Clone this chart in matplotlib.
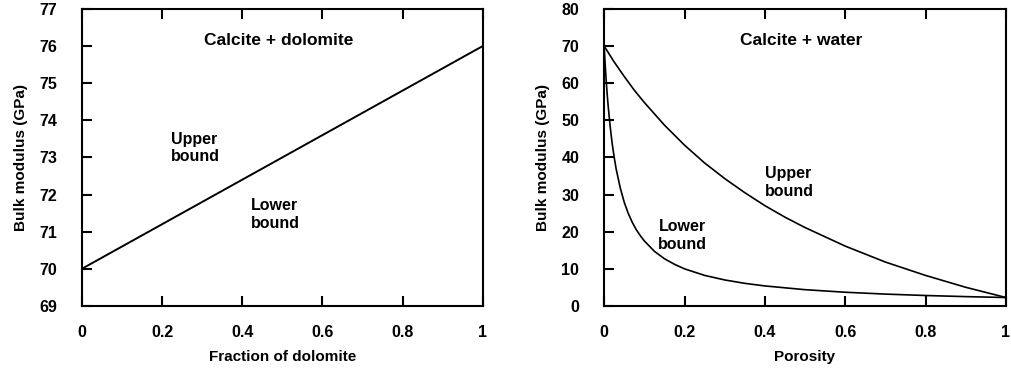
import matplotlib
matplotlib.use("Agg")
import matplotlib.pyplot as plt

# left panel: calcite + dolomite (bounds coincide)
frac_dolomite = [0.0, 0.25, 0.5, 0.75, 1.0]
k_dolomite_mix = [70.0, 71.5, 73.0, 74.5, 76.0]

# right panel: calcite + water
por_upper = [0.0, 0.025, 0.05, 0.075, 0.1, 0.15, 0.2, 0.25, 0.3, 0.35, 0.4, 0.45, 0.5,
             0.6, 0.7, 0.8, 0.9, 1.0]
k_upper = [70.0, 65.7, 61.8, 58.1, 54.8, 48.7, 43.3, 38.5, 34.3, 30.5, 27.0, 23.9, 21.1,
           16.1, 11.8, 8.2, 5.0, 2.25]

por_lower = [0.0, 0.0025, 0.005, 0.0075, 0.01, 0.015, 0.02, 0.025, 0.03, 0.04, 0.05, 0.06,
             0.07, 0.08, 0.09, 0.1, 0.125, 0.15, 0.175, 0.2, 0.25, 0.3, 0.35, 0.4, 0.5,
             0.6, 0.7, 0.8, 0.9, 1.0]
k_lower = [70.0, 65.0, 60.8, 57.0, 53.8, 48.3, 43.7, 40.0, 36.8, 31.8, 27.9, 24.9,
           22.5, 20.5, 18.9, 17.5, 14.7, 12.7, 11.2, 9.97, 8.21, 6.98, 6.07, 5.37, 4.36,
           3.67, 3.17, 2.79, 2.49, 2.25]

x_ticks = [0, 0.2, 0.4, 0.6, 0.8, 1]
x_ticklabels = ['0', '0.2', '0.4', '0.6', '0.8', '1']

plt.rcParams['font.family'] = ['Liberation Sans', 'DejaVu Sans']
plt.rcParams['font.weight'] = 'bold'


def style_axes(ax):
    for s in ax.spines.values():
        s.set_linewidth(1.5)
    ax.tick_params(direction='in', length=7, width=1.5, top=True, right=False,
                   labelsize=11.5)
    ax.tick_params(axis='y', pad=18)
    ax.tick_params(axis='x', pad=14)
    ax.set_xlim(0, 1)
    ax.set_xticks(x_ticks)
    ax.set_xticklabels(x_ticklabels)


def main():
    fig = plt.figure(figsize=(10.12, 3.73), dpi=100)
    ax1 = fig.add_axes([0.081, 0.18, 0.396, 0.796])
    ax2 = fig.add_axes([0.597, 0.18, 0.397, 0.796])

    # left
    ax1.plot(frac_dolomite, k_dolomite_mix, color='black', lw=1.4)
    style_axes(ax1)
    ax1.set_ylim(69, 77)
    ax1.set_yticks(range(69, 78))
    ax1.set_xlabel('Fraction of dolomite', fontsize=11, fontweight='bold', labelpad=7)
    ax1.set_ylabel('Bulk modulus (GPa)', fontsize=11, fontweight='bold', labelpad=8)
    ax1.text(0.492, 76.15, 'Calcite + dolomite', ha='center', va='center',
             fontsize=12.5, fontweight='bold')
    ax1.text(0.222, 73.25, 'Upper\nbound', ha='left', va='center',
             fontsize=11.5, fontweight='bold', linespacing=1.2)
    ax1.text(0.421, 71.46, 'Lower\nbound', ha='left', va='center',
             fontsize=11.5, fontweight='bold', linespacing=1.2)

    # right
    ax2.plot(por_upper, k_upper, color='black', lw=1.2)
    ax2.plot(por_lower, k_lower, color='black', lw=1.2)
    style_axes(ax2)
    ax2.set_ylim(0, 80)
    ax2.set_yticks(range(0, 81, 10))
    ax2.set_xlabel('Porosity', fontsize=11, fontweight='bold', labelpad=7)
    ax2.set_ylabel('Bulk modulus (GPa)', fontsize=11, fontweight='bold', labelpad=8)
    ax2.text(0.491, 71.6, 'Calcite + water', ha='center', va='center',
             fontsize=12.5, fontweight='bold')
    ax2.text(0.40, 33.2, 'Upper\nbound', ha='left', va='center',
             fontsize=11.5, fontweight='bold', linespacing=1.2)
    ax2.text(0.135, 19.0, 'Lower\nbound', ha='left', va='center',
             fontsize=11.5, fontweight='bold', linespacing=1.2)

    fig.savefig('out.png', dpi=100)


if __name__ == '__main__':
    main()
